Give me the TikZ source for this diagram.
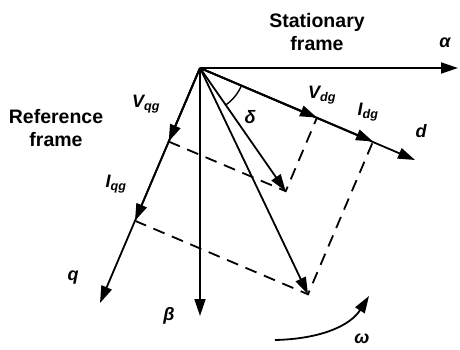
\documentclass[tikz,border=0pt]{standalone}
\usepackage{fontspec}
\setmainfont{Liberation Sans}
\usetikzlibrary{calc,arrows.meta}

\begin{document}
\begin{tikzpicture}[x=1pt,y=-1pt,line width=1.8pt,
  vec/.style={-{Triangle[length=17pt,width=11pt]}},
  proj/.style={dash pattern=on 12pt off 8pt},
  lbl/.style={font=\fontsize{18}{21}\selectfont\bfseries\itshape,inner sep=0pt},
  frm/.style={font=\fontsize{19.5}{23}\selectfont\bfseries,align=center,inner sep=0pt}]
  \useasboundingbox (0,0) rectangle (460,350);
  \coordinate (O) at (200,68);
  \coordinate (Al) at (458,68);
  \coordinate (Be) at (200,316);
  \coordinate (D) at (415,160);
  \coordinate (Q) at (100,303);
  \coordinate (Vd) at (317,117.6);
  \coordinate (Id) at (373,141.5);
  \coordinate (Vq) at (168.7,141.6);
  \coordinate (Iq) at (135,220.8);
  \coordinate (V) at ($(Vd)+(Vq)-(O)$);
  \coordinate (I) at ($(Id)+(Iq)-(O)$);
  \coordinate (W0) at (275,340);
  \coordinate (W1) at (369,296);
  % axes
  \draw[vec] (O)--(Al);
  \draw[vec] (O)--(Be);
  \draw[vec] (O)--(D);
  \draw[vec] (O)--(Q);
  % components and resultants
  \foreach \p in {Vd,Id,Vq,Iq,V,I}
    \draw[vec] (O)--(\p);
  \draw[proj] (Vq)--(V)--(Vd);
  \draw[proj] (Iq)--(I)--(Id);
  % angle and rotation
  \draw[line width=1.4pt] ($(O)!45pt!(D)$) arc[start angle=23,end angle=55.2,radius=45];
  \draw[vec] (W0) .. controls (320,339) and (350,326) .. (W1);
  % labels
  \node[frm] (stat) at (317,32) {Stationary\\frame};
  \node[frm] (ref) at (56,128) {Reference\\frame};
  \node[lbl] (alpha) at (445,43) {α};
  \node[lbl] (beta) at (169,316) {β};
  \node[lbl] (dlab) at (421,131) {d};
  \node[lbl] (qlab) at (73,278) {q};
  \node[lbl] (vdg) at (322,95) {V\textsubscript{dg}};
  \node[lbl] (idg) at (368,112) {I\textsubscript{dg}};
  \node[lbl] (vqg) at (146,104) {V\textsubscript{qg}};
  \node[lbl] (iqg) at (116,184) {I\textsubscript{qg}};
  \node[lbl] (delta) at (250,117) {δ};
  \node[lbl] (omega) at (362,339) {ω};
\end{tikzpicture}
\end{document}
